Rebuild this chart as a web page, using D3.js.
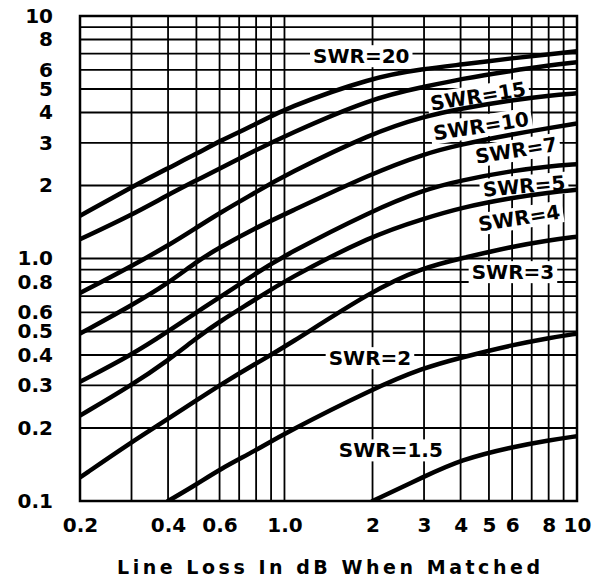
<!DOCTYPE html>
<html>
<head>
<meta charset="utf-8">
<script src="https://cdn.jsdelivr.net/npm/d3@7"></script>
<style>
body{margin:0;background:#fff;}
text{font-family:"DejaVu Sans",sans-serif;font-weight:bold;fill:#000;}
</style>
</head>
<body>
<svg width="594" height="582"></svg>
<script>
'use strict';

// matched line loss (dB) where the curves were read
const lineLoss = [0.2, 0.3, 0.4, 0.5, 0.6, 0.8, 1, 2, 3, 4, 6, 8, 10];
const lineLossSwr2 = [0.4, 0.5, 0.6, 0.8, 1, 2, 3, 4, 6, 8, 10];
const lineLossSwr15 = [2, 3, 4, 6, 8, 10];

// additional loss (dB) caused by SWR
const swr20 = [1.5, 1.97, 2.36, 2.7, 3.05, 3.58, 4.15, 5.6, 6.05, 6.3, 6.7, 6.95, 7.15];
const swr15 = [1.2, 1.51, 1.83, 2.1, 2.35, 2.8, 3.2, 4.6, 5.1, 5.5, 5.95, 6.25, 6.45];
const swr10 = [0.72, 0.93, 1.13, 1.34, 1.54, 1.88, 2.2, 3.3, 3.85, 4.15, 4.5, 4.7, 4.8];
const swr7 = [0.49, 0.64, 0.79, 0.97, 1.11, 1.34, 1.52, 2.25, 2.7, 2.95, 3.25, 3.45, 3.6];
const swr5 = [0.31, 0.4, 0.5, 0.6, 0.69, 0.87, 1.03, 1.58, 1.92, 2.1, 2.3, 2.4, 2.45];
const swr4 = [0.225, 0.3, 0.38, 0.47, 0.55, 0.68, 0.81, 1.25, 1.46, 1.62, 1.78, 1.87, 1.92];
const swr3 = [0.125, 0.175, 0.218, 0.26, 0.3, 0.37, 0.43, 0.74, 0.92, 1.0, 1.12, 1.19, 1.23];
const swr2 = [0.1, 0.117, 0.135, 0.162, 0.19, 0.29, 0.355, 0.39, 0.44, 0.47, 0.49];
const swr1p5 = [0.1, 0.126, 0.148, 0.167, 0.178, 0.185];

const xGrid = [0.2, 0.3, 0.4, 0.5, 0.6, 0.7, 0.8, 0.9, 1, 2, 3, 4, 5, 6, 7, 8, 9, 10];
const yGrid = [0.1, 0.2, 0.3, 0.4, 0.5, 0.6, 0.7, 0.8, 0.9, 1, 2, 3, 4, 5, 6, 7, 8, 9, 10];
const xTicks = [0.2, 0.4, 0.6, 1, 2, 3, 4, 5, 6, 8, 10];
const xTickLabels = ["0.2", "0.4", "0.6", "1.0", "2", "3", "4", "5", "6", "8", "10"];
const yTicks = [0.1, 0.2, 0.3, 0.4, 0.5, 0.6, 0.8, 1, 2, 3, 4, 5, 6, 8, 10];
const yTickLabels = ["0.1", "0.2", "0.3", "0.4", "0.5", "0.6", "0.8", "1.0", "2", "3", "4", "5", "6", "8", "10"];

// curve labels, placed in data coordinates
const labelText = ["SWR=20", "SWR=15", "SWR=10", "SWR=7", "SWR=5", "SWR=4", "SWR=3", "SWR=2", "SWR=1.5"];
const labelX = [1.83, 4.59, 4.70, 6.19, 6.59, 6.34, 6.04, 1.96, 2.31];
const labelY = [6.84, 4.68, 3.52, 2.80, 1.99, 1.47, 0.88, 0.389, 0.162];
const labelAngle = [0, -9, -9, -9, -5, -9, 0, 0, 0];

const curves = [
    {x: lineLoss, y: swr20},
    {x: lineLoss, y: swr15},
    {x: lineLoss, y: swr10},
    {x: lineLoss, y: swr7},
    {x: lineLoss, y: swr5},
    {x: lineLoss, y: swr4},
    {x: lineLoss, y: swr3},
    {x: lineLossSwr2, y: swr2},
    {x: lineLossSwr15, y: swr1p5},
];

const svg = d3.select("svg");
const plotLeft = 80, plotRight = 577, plotTop = 16, plotBottom = 501;

const x = d3.scaleLog().domain([0.2, 10]).range([plotLeft, plotRight]);
const y = d3.scaleLog().domain([0.1, 10]).range([plotBottom, plotTop]);

svg.append("clipPath")
    .attr("id", "plot")
  .append("rect")
    .attr("x", plotLeft)
    .attr("y", plotTop)
    .attr("width", plotRight - plotLeft)
    .attr("height", plotBottom - plotTop);

const grid = svg.append("g")
    .attr("stroke", "#000")
    .attr("stroke-width", 1.8);

grid.selectAll(".vx")
    .data(xGrid)
    .join("line")
    .attr("class", "vx")
    .attr("x1", d => x(d))
    .attr("x2", d => x(d))
    .attr("y1", plotTop)
    .attr("y2", plotBottom);

grid.selectAll(".hy")
    .data(yGrid)
    .join("line")
    .attr("class", "hy")
    .attr("x1", plotLeft)
    .attr("x2", plotRight)
    .attr("y1", d => y(d))
    .attr("y2", d => y(d));

const labelPos = (d, i) => `translate(${x(labelX[i])},${y(labelY[i])}) rotate(${labelAngle[i]})`;

// white patches behind the curve labels, sized from a measuring pass
const patches = svg.append("g")
    .selectAll("g")
    .data(labelText)
    .join("g")
    .attr("transform", labelPos);

patches.append("text")
    .attr("text-anchor", "middle")
    .attr("dy", "0.36em")
    .attr("font-size", 20)
    .text(d => d);

patches.each(function() {
    const g = d3.select(this);
    const b = g.select("text").node().getBBox();
    g.insert("rect", "text")
        .attr("x", b.x - 3)
        .attr("y", b.y + 1)
        .attr("width", b.width + 6)
        .attr("height", b.height - 2)
        .attr("fill", "#fff");
});
patches.selectAll("text").remove();

const line = d3.line()
    .x(d => x(d[0]))
    .y(d => y(d[1]))
    .curve(d3.curveBasis);

svg.append("g")
    .attr("clip-path", "url(#plot)")
    .selectAll("path")
    .data(curves)
    .join("path")
    .attr("d", c => line(c.x.map((v, i) => [v, c.y[i]])))
    .attr("fill", "none")
    .attr("stroke", "#000")
    .attr("stroke-width", 4.5)
    .attr("stroke-linecap", "round");

svg.append("g")
    .selectAll("text")
    .data(labelText)
    .join("text")
    .attr("transform", labelPos)
    .attr("text-anchor", "middle")
    .attr("dy", "0.36em")
    .attr("font-size", 20)
    .text(d => d);

svg.append("rect")
    .attr("x", plotLeft)
    .attr("y", plotTop)
    .attr("width", plotRight - plotLeft)
    .attr("height", plotBottom - plotTop)
    .attr("fill", "none")
    .attr("stroke", "#000")
    .attr("stroke-width", 2.5);

const xAxis = svg.append("g")
    .attr("transform", `translate(0,${plotBottom})`)
    .call(d3.axisBottom(x)
        .tickValues(xTicks)
        .tickFormat((d, i) => xTickLabels[i])
        .tickSize(0)
        .tickPadding(17));

const yAxis = svg.append("g")
    .attr("transform", `translate(${plotLeft},0)`)
    .call(d3.axisLeft(y)
        .tickValues(yTicks)
        .tickFormat((d, i) => yTickLabels[i])
        .tickSize(0)
        .tickPadding(27));

[xAxis, yAxis].forEach(a => {
    a.select(".domain").remove();
    a.selectAll("text")
        .attr("font-size", 20)
        .attr("font-family", "DejaVu Sans, sans-serif")
        .attr("font-weight", "bold")
        .attr("fill", "#000");
});

svg.append("text")
    .attr("x", 117)
    .attr("y", 574)
    .attr("font-size", 19)
    .attr("textLength", 423)
    .attr("lengthAdjust", "spacing")
    .text("Line Loss In dB When Matched");
</script>
</body>
</html>
